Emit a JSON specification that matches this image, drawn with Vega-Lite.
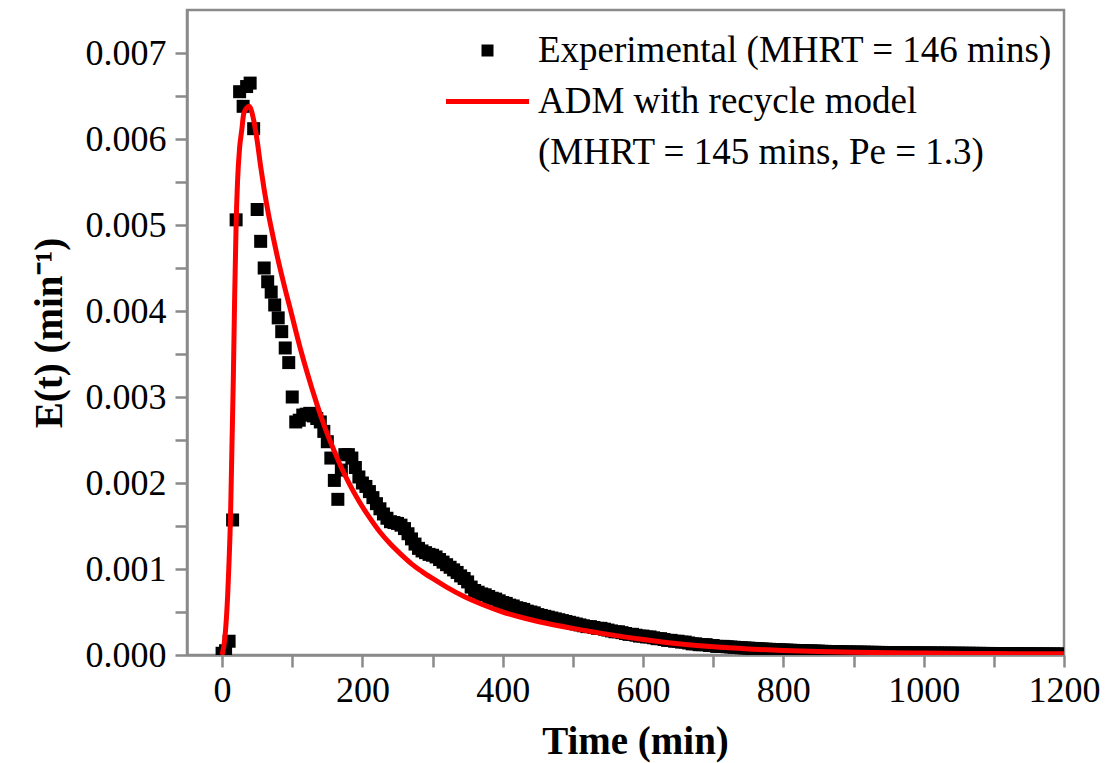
{
  "$schema": "https://vega.github.io/schema/vega-lite/v6.json",
  "width": 877,
  "height": 645,
  "autosize": {"type": "none"},
  "padding": {"left": 187, "top": 10, "right": 41, "bottom": 108},
  "background": "white",
  "config": {
    "view": {"stroke": "#8a8a8a", "strokeWidth": 2.5},
    "font": "Liberation Serif",
    "axis": {
      "grid": false,
      "domainColor": "#8a8a8a",
      "domainWidth": 2.5,
      "tickColor": "#8a8a8a",
      "tickWidth": 2.5,
      "labelColor": "#000000",
      "labelFont": "Liberation Serif",
      "labelFontSize": 36,
      "titleFont": "Liberation Serif",
      "titleFontWeight": "bold",
      "titleFontSize": 39,
      "titleColor": "#000000"
    },
    "legend": {
      "title": null,
      "orient": "none",
      "legendX": 258,
      "legendY": 22,
      "padding": 0,
      "symbolSize": 144,
      "symbolStrokeWidth": 0,
      "symbolOpacity": 1,
      "symbolOffset": 24,
      "labelFont": "Liberation Serif",
      "labelFontSize": 37,
      "labelColor": "#000000",
      "labelLimit": 1000,
      "labelOffset": 32,
      "rowPadding": 13
    }
  },
  "datasets": {
    "exp": [
      {"t":0,"e":0.00002},{"t":5,"e":0.00005},{"t":10,"e":0.00016},{"t":15,"e":0.00157},{"t":20,"e":0.00506},
      {"t":25,"e":0.00655},{"t":30,"e":0.00638},{"t":35,"e":0.00661},{"t":40,"e":0.00665},{"t":45,"e":0.00612},
      {"t":50,"e":0.00518},{"t":55,"e":0.00481},{"t":60,"e":0.0045},{"t":65,"e":0.00434},{"t":70,"e":0.00422},
      {"t":75,"e":0.00407},{"t":80,"e":0.00392},{"t":85,"e":0.00376},{"t":90,"e":0.00357},{"t":95,"e":0.0034},
      {"t":100,"e":0.003},{"t":105,"e":0.00271},{"t":110,"e":0.00273},{"t":115,"e":0.00279},{"t":120,"e":0.0028},
      {"t":125,"e":0.00281},{"t":130,"e":0.00278},{"t":135,"e":0.00275},{"t":140,"e":0.00271},{"t":145,"e":0.0026},
      {"t":150,"e":0.00248},{"t":155,"e":0.00229},{"t":160,"e":0.00203},{"t":165,"e":0.00181},{"t":170,"e":0.00215},
      {"t":175,"e":0.00233},{"t":180,"e":0.00233},{"t":185,"e":0.00229},{"t":190,"e":0.00218},{"t":195,"e":0.00207},
      {"t":200,"e":0.002},{"t":205,"e":0.00196},{"t":210,"e":0.0019},{"t":215,"e":0.00183},{"t":220,"e":0.00176},
      {"t":225,"e":0.0017},{"t":230,"e":0.00164},{"t":235,"e":0.00159},{"t":240,"e":0.00155},{"t":245,"e":0.00154},
      {"t":250,"e":0.00153},{"t":255,"e":0.00151},{"t":260,"e":0.00147},{"t":265,"e":0.00141},{"t":270,"e":0.00135},
      {"t":275,"e":0.00129},{"t":280,"e":0.00124},{"t":285,"e":0.00121},{"t":290,"e":0.00119},{"t":295,"e":0.00117},
      {"t":300,"e":0.00116},{"t":305,"e":0.00114},{"t":310,"e":0.00111},{"t":315,"e":0.00108},{"t":320,"e":0.00105},
      {"t":325,"e":0.00102},{"t":330,"e":0.00099},{"t":335,"e":0.00096},{"t":340,"e":0.00092},{"t":345,"e":0.00089},
      {"t":350,"e":0.00085},{"t":355,"e":0.00079},{"t":360,"e":0.00075},{"t":365,"e":0.00073},{"t":370,"e":0.00071},
      {"t":375,"e":0.0007},{"t":380,"e":0.00068},{"t":385,"e":0.00066},{"t":390,"e":0.00065},{"t":395,"e":0.00063},
      {"t":400,"e":0.00061},{"t":405,"e":0.0006},{"t":410,"e":0.00058},{"t":415,"e":0.00057},{"t":420,"e":0.00055},
      {"t":425,"e":0.00054},{"t":430,"e":0.00053},{"t":435,"e":0.00051},{"t":440,"e":0.0005},{"t":445,"e":0.00049},
      {"t":450,"e":0.00047},{"t":455,"e":0.00046},{"t":460,"e":0.00045},{"t":465,"e":0.00044},{"t":470,"e":0.00043},
      {"t":475,"e":0.00042},{"t":480,"e":0.00041},{"t":485,"e":0.0004},{"t":490,"e":0.00039},{"t":495,"e":0.00038},
      {"t":500,"e":0.00037},{"t":505,"e":0.00036},{"t":510,"e":0.00035},{"t":515,"e":0.00034},{"t":520,"e":0.00033},
      {"t":525,"e":0.00033},{"t":530,"e":0.00032},{"t":535,"e":0.00031},{"t":540,"e":0.00031},{"t":545,"e":0.0003},
      {"t":550,"e":0.00029},{"t":555,"e":0.00028},{"t":560,"e":0.00027},{"t":565,"e":0.00027},{"t":570,"e":0.00026},
      {"t":575,"e":0.00025},{"t":580,"e":0.00024},{"t":585,"e":0.00024},{"t":590,"e":0.00023},{"t":595,"e":0.00022},
      {"t":600,"e":0.00022},{"t":605,"e":0.00021},{"t":610,"e":0.00021},{"t":615,"e":0.0002},{"t":620,"e":0.00019},
      {"t":625,"e":0.00019},{"t":630,"e":0.00018},{"t":635,"e":0.00017},{"t":640,"e":0.00017},{"t":645,"e":0.00016},
      {"t":650,"e":0.00016},{"t":655,"e":0.00015},{"t":660,"e":0.00015},{"t":665,"e":0.00014},{"t":670,"e":0.00013},
      {"t":675,"e":0.00013},{"t":680,"e":0.00012},{"t":685,"e":0.00012},{"t":690,"e":0.00012},{"t":695,"e":0.00011},
      {"t":700,"e":0.00011},{"t":705,"e":0.0001},{"t":710,"e":0.0001},{"t":715,"e":0.0001},{"t":720,"e":0.000096},
      {"t":725,"e":0.000093},{"t":730,"e":0.00009},{"t":735,"e":0.000087},{"t":740,"e":0.000084},{"t":745,"e":0.000082},
      {"t":750,"e":0.00008},{"t":755,"e":0.000077},{"t":760,"e":0.000075},{"t":765,"e":0.000072},{"t":770,"e":0.00007},
      {"t":775,"e":0.000068},{"t":780,"e":0.000066},{"t":785,"e":0.000064},{"t":790,"e":0.000062},{"t":795,"e":0.00006},
      {"t":800,"e":0.000058},{"t":805,"e":0.000057},{"t":810,"e":0.000055},{"t":815,"e":0.000054},{"t":820,"e":0.000052},
      {"t":825,"e":0.000051},{"t":830,"e":0.00005},{"t":835,"e":0.000048},{"t":840,"e":0.000047},{"t":845,"e":0.000046},
      {"t":850,"e":0.000045},{"t":855,"e":0.000043},{"t":860,"e":0.000042},{"t":865,"e":0.000041},{"t":870,"e":0.00004},
      {"t":875,"e":0.000039},{"t":880,"e":0.000038},{"t":885,"e":0.000037},{"t":890,"e":0.000036},{"t":895,"e":0.000035},
      {"t":900,"e":0.000034},{"t":905,"e":0.000034},{"t":910,"e":0.000033},{"t":915,"e":0.000033},{"t":920,"e":0.000032},
      {"t":925,"e":0.000031},{"t":930,"e":0.000031},{"t":935,"e":0.00003},{"t":940,"e":0.00003},{"t":945,"e":0.000029},
      {"t":950,"e":0.000029},{"t":955,"e":0.000028},{"t":960,"e":0.000028},{"t":965,"e":0.000027},{"t":970,"e":0.000027},
      {"t":975,"e":0.000026},{"t":980,"e":0.000026},{"t":985,"e":0.000025},{"t":990,"e":0.000025},{"t":995,"e":0.000024},
      {"t":1000,"e":0.000024},{"t":1005,"e":0.000024},{"t":1010,"e":0.000023},{"t":1015,"e":0.000023},{"t":1020,"e":0.000023},
      {"t":1025,"e":0.000022},{"t":1030,"e":0.000022},{"t":1035,"e":0.000022},{"t":1040,"e":0.000021},{"t":1045,"e":0.000021},
      {"t":1050,"e":0.000021},{"t":1055,"e":0.00002},{"t":1060,"e":0.00002},{"t":1065,"e":0.00002},{"t":1070,"e":0.000019},
      {"t":1075,"e":0.000019},{"t":1080,"e":0.000019},{"t":1085,"e":0.000018},{"t":1090,"e":0.000018},{"t":1095,"e":0.000018},
      {"t":1100,"e":0.000017},{"t":1105,"e":0.000017},{"t":1110,"e":0.000017},{"t":1115,"e":0.000016},{"t":1120,"e":0.000016},
      {"t":1125,"e":0.000016},{"t":1130,"e":0.000015},{"t":1135,"e":0.000015},{"t":1140,"e":0.000015},{"t":1145,"e":0.000014},
      {"t":1150,"e":0.000014},{"t":1155,"e":0.000014},{"t":1160,"e":0.000013},{"t":1165,"e":0.000013},{"t":1170,"e":0.000013},
      {"t":1175,"e":0.000012},{"t":1180,"e":0.000012},{"t":1185,"e":0.000012},{"t":1190,"e":0.000011},{"t":1195,"e":0.000011},
      {"t":1200,"e":0.000011}
    ],
    "adm": [
      {"t":0,"e":0},{"t":4,"e":0.0002},{"t":8,"e":0.0007},{"t":10,"e":0.0011},{"t":12,"e":0.0016},
      {"t":14,"e":0.0024},{"t":16,"e":0.0032},{"t":18,"e":0.0042},{"t":20,"e":0.005},{"t":22,"e":0.0055},
      {"t":25,"e":0.0059},{"t":28,"e":0.0061},{"t":31,"e":0.0063},{"t":35,"e":0.00636},{"t":38,"e":0.00638},
      {"t":41,"e":0.00635},{"t":45,"e":0.00622},{"t":50,"e":0.00598},{"t":55,"e":0.00568},{"t":60,"e":0.00541},
      {"t":66,"e":0.00513},{"t":72,"e":0.00489},{"t":78,"e":0.00466},{"t":84,"e":0.00445},{"t":90,"e":0.00425},
      {"t":97,"e":0.00403},{"t":105,"e":0.00377},{"t":113,"e":0.00352},{"t":121,"e":0.00329},{"t":128,"e":0.0031},
      {"t":135,"e":0.00292},{"t":142,"e":0.00275},{"t":150,"e":0.00257},{"t":160,"e":0.00237},{"t":170,"e":0.00218},
      {"t":182,"e":0.00198},{"t":195,"e":0.00179},{"t":210,"e":0.0016},{"t":225,"e":0.00143},{"t":240,"e":0.00129},
      {"t":255,"e":0.00117},{"t":270,"e":0.00106},{"t":285,"e":0.00097},{"t":300,"e":0.00089},{"t":320,"e":0.00079},
      {"t":345,"e":0.00068},{"t":370,"e":0.00059},{"t":400,"e":0.0005},{"t":430,"e":0.00043},{"t":467,"e":0.00036},
      {"t":500,"e":0.00031},{"t":550,"e":0.00024},{"t":600,"e":0.00018},{"t":650,"e":0.00013},{"t":700,"e":0.000095},
      {"t":750,"e":0.00007},{"t":800,"e":0.000052},{"t":850,"e":0.00004},{"t":900,"e":0.000032},{"t":1000,"e":0.000022},
      {"t":1100,"e":0.000017},{"t":1200,"e":0.000014}
    ]
  },
  "layer": [
    {
      "data": {"name": "exp"},
      "mark": {"type": "point", "size": 169, "filled": true, "opacity": 1, "clip": true},
      "encoding": {
        "x": {
          "field": "t", "type": "quantitative",
          "scale": {"domain": [-50, 1200], "nice": false, "zero": false},
          "axis": {
            "values": [0,100,200,300,400,500,600,700,800,900,1000,1100,1200],
            "format": "d",
            "labelExpr": "datum.value % 200 === 0 ? datum.label : ''",
            "tickSize": 12,
            "labelPadding": 6,
            "labelOverlap": false,
            "labelFlush": false,
            "title": "Time (min)",
            "titleX": 448,
            "titlePadding": 14,
            "encode": {"ticks": {"y2": {"signal": "datum.value % 200 === 0 ? 12 : 6"}}}
          }
        },
        "y": {
          "field": "e", "type": "quantitative",
          "scale": {"domain": [0, 0.0075], "nice": false},
          "axis": {
            "values": [0,0.0005,0.001,0.0015,0.002,0.0025,0.003,0.0035,0.004,0.0045,0.005,0.0055,0.006,0.0065,0.007],
            "format": ".3f",
            "labelExpr": "round(datum.value*2000) % 2 === 0 ? datum.label : ''",
            "tickSize": 12,
            "labelPadding": 9,
            "labelOverlap": false,
            "labelFlush": false,
            "title": "E(t) (min⁻¹)",
            "titlePadding": 16,
            "encode": {"ticks": {"x2": {"signal": "round(datum.value*2000) % 2 === 0 ? -12 : -6"}}}
          }
        },
        "color": {
          "datum": "Experimental (MHRT = 146 mins)",
          "type": "nominal",
          "scale": {
            "domain": ["Experimental (MHRT = 146 mins)", "ADM with recycle model", "(MHRT = 145 mins, Pe = 1.3)"],
            "range": ["#000000", "#ff0000", "#ffffff"]
          },
          "legend": {"title": null}
        },
        "shape": {
          "datum": "Experimental (MHRT = 146 mins)",
          "type": "nominal",
          "scale": {
            "domain": ["Experimental (MHRT = 146 mins)", "ADM with recycle model", "(MHRT = 145 mins, Pe = 1.3)"],
            "range": ["square", "M-6.92,-0.42H6.92V0.42H-6.92Z", "M0,0Z"]
          },
          "legend": {"title": null}
        }
      }
    },
    {
      "data": {"name": "adm"},
      "mark": {"type": "line", "strokeWidth": 5, "interpolate": "monotone", "clip": true},
      "encoding": {
        "x": {"field": "t", "type": "quantitative"},
        "y": {"field": "e", "type": "quantitative"},
        "color": {
          "datum": "ADM with recycle model",
          "type": "nominal",
          "legend": null
        }
      }
    }
  ]
}
